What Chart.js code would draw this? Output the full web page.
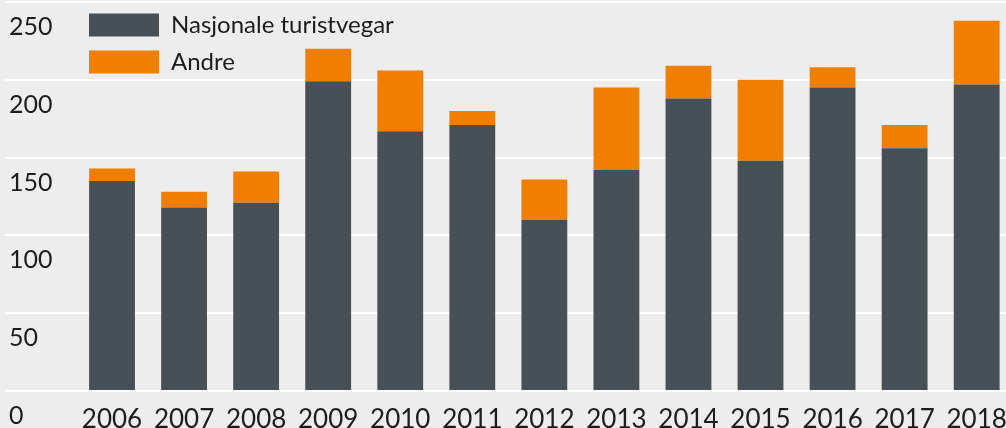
<!DOCTYPE html>
<html>
<head>
<meta charset="utf-8">
<script src="https://cdn.jsdelivr.net/npm/chart.js@4/dist/chart.umd.min.js"></script>
<style>
	html, body { margin: 0; padding: 0; background: #ededed; overflow: hidden; }
	#wrap { width: 1020px; height: 428px; }
</style>
</head>
<body>
<div id="wrap"><canvas id="turist-chart"></canvas></div>
<script>
const years = ['2006', '2007', '2008', '2009', '2010', '2011', '2012', '2013', '2014', '2015', '2016', '2017', '2018'];
const nasjonale = [135, 118, 121, 199, 167, 171, 110, 142, 188, 148, 195, 156, 197];
const andre = [8, 10, 20, 21, 39, 9, 26, 53, 21, 52, 13, 15, 41];

const textColor = '#1d1d1b';
const fontFamily = 'Lato, "Open Sans", sans-serif';

const background = {
	id: 'background',
	beforeDraw(chart) {
		const { ctx, width, height } = chart;
		ctx.save();
		ctx.fillStyle = '#ededed';
		ctx.fillRect(0, 0, width, height);
		ctx.restore();
	},
};

const datasetStyle = {
	barPercentage: 1,
	categoryPercentage: 0.636,
	borderWidth: 0,
};

new Chart('turist-chart', {
	type: 'bar',
	data: {
		labels: years,
		datasets: [
			{ ...datasetStyle, label: 'Nasjonale turistvegar', data: nasjonale, backgroundColor: '#465056' },
			{ ...datasetStyle, label: 'Andre', data: andre, backgroundColor: '#f07f00' },
		],
	},
	options: {
		responsive: true,
		maintainAspectRatio: false,
		animation: false,
		devicePixelRatio: 1,
		layout: { padding: { left: 5, right: 4, top: 2, bottom: 0 } },
		scales: {
			x: {
				stacked: true,
				grid: { display: false, drawTicks: false },
				border: { display: false },
				ticks: {
					color: textColor,
					font: { family: fontFamily, size: 26 },
					padding: 13,
					maxRotation: 0,
					autoSkip: false,
				},
				afterFit: (scale) => {
					scale.height = 37;
				},
			},
			y: {
				stacked: true,
				min: 0,
				max: 250,
				border: { display: false },
				grid: { color: '#ffffff', lineWidth: 2, tickLength: 71 },
				ticks: {
					stepSize: 50,
					mirror: true,
					padding: -67,
					labelOffset: 25,
					color: textColor,
					font: { family: fontFamily, size: 25 },
				},
				afterFit: (scale) => {
					scale.width = 71;
				},
			},
		},
		plugins: {
			legend: {
				position: 'chartArea',
				align: 'start',
				labels: {
					boxWidth: 70,
					boxHeight: 23,
					padding: 13,
					color: textColor,
					font: { family: fontFamily, size: 24 },
				},
			},
			tooltip: { enabled: false },
		},
	},
	plugins: [background],
});
</script>
</body>
</html>
